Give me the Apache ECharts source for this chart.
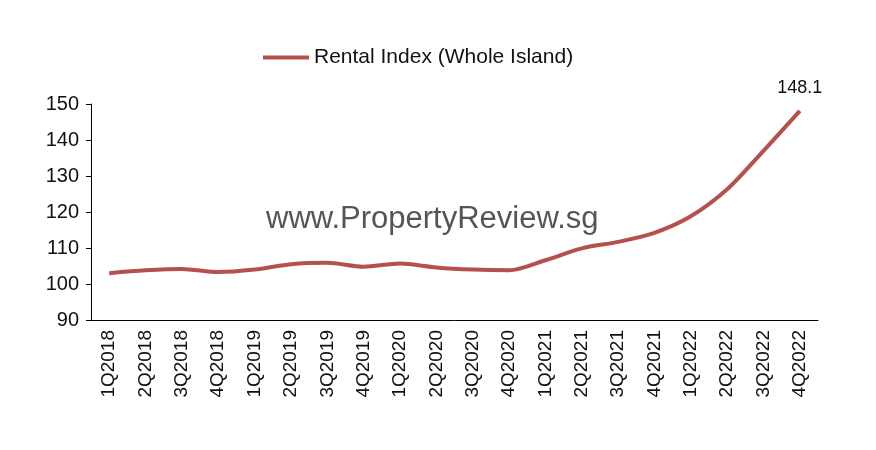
<!DOCTYPE html>
<html><head><meta charset="utf-8">
<script src="https://cdn.jsdelivr.net/npm/echarts@6/dist/echarts.min.js"></script>
<style>html,body{margin:0;background:#fff}#c{width:876px;height:450px}</style>
</head><body><div id="c"></div>
<script>
const categories=['1Q2018','2Q2018','3Q2018','4Q2018','1Q2019','2Q2019','3Q2019','4Q2019','1Q2020','2Q2020','3Q2020','4Q2020','1Q2021','2Q2021','3Q2021','4Q2021','1Q2022','2Q2022','3Q2022','4Q2022'];
const rentalIndex=[103.0,103.8,104.2,103.3,104.0,105.5,105.9,104.8,105.7,104.6,104.0,103.8,106.6,109.9,111.7,114.2,118.8,126.3,137.0,148.1];
const chart=echarts.init(document.getElementById('c'));
const font='Liberation Sans';
chart.setOption({
  animation:false,
  textStyle:{fontFamily:font},
  legend:{top:42,left:258,itemWidth:46,itemHeight:4,itemGap:8,icon:'rect',textStyle:{fontSize:21,color:'#111',fontFamily:font},data:['Rental Index (Whole Island)']},
  grid:{left:91,right:58,top:104,bottom:130},
  graphic:[{type:'text',left:266,top:204,style:{text:'www.PropertyReview.sg',font:'31px "Liberation Sans"',fill:'#555'}}],
  xAxis:{type:'category',data:categories,boundaryGap:true,
    axisLine:{lineStyle:{color:'#000'}},axisTick:{lineStyle:{color:'#000'},length:6},
    axisLabel:{rotate:90,color:'#111',fontSize:19,margin:10}},
  yAxis:{type:'value',min:90,max:150,interval:10,
    axisLine:{show:true,lineStyle:{color:'#000'}},axisTick:{show:true,lineStyle:{color:'#000'},length:5},
    splitLine:{show:false},axisLabel:{color:'#111',fontSize:20,margin:12}},
  series:[{name:'Rental Index (Whole Island)',type:'line',data:rentalIndex,smooth:0.3,showSymbol:false,
    lineStyle:{color:'#b5514c',width:4},itemStyle:{color:'#b5514c'},
    markPoint:{symbol:'circle',symbolSize:0,data:[{coord:[19,148.1],value:'148.1'}],
      label:{show:true,position:'top',distance:14,color:'#111',fontSize:18,formatter:'148.1'}}}]
});
</script></body></html>
